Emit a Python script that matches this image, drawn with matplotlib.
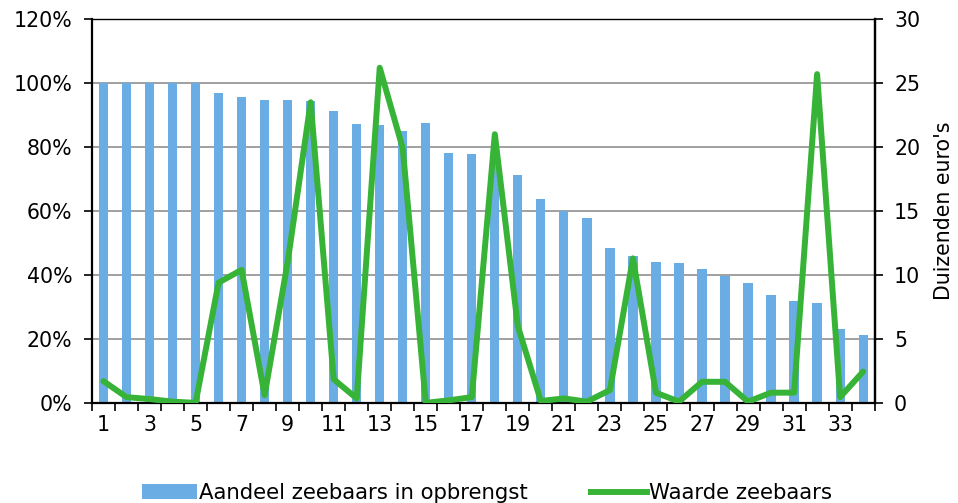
import matplotlib
matplotlib.use("Agg")
import matplotlib.pyplot as plt
from matplotlib.patches import Patch
from matplotlib.lines import Line2D
import numpy as np

plt.rcParams['font.family'] = ['DejaVu Sans']

categories = list(range(1, 35))
aandeel = [100, 100, 100, 100, 100, 96.9, 95.5, 94.8, 94.7, 94.3,
           91.3, 87.1, 86.8, 84.9, 87.4, 78.1, 77.8, 76.0, 71.2, 63.7,
           59.9, 57.8, 48.4, 46.0, 44.0, 43.6, 41.8, 39.8, 37.5, 33.7,
           32.0, 31.2, 23.1, 21.3]
waarde = [1.7, 0.45, 0.3, 0.1, 0.0, 9.4, 10.4, 0.6, 11.0, 23.5,
          1.85, 0.35, 26.2, 19.9, 0.0, 0.2, 0.45, 21.0, 6.0, 0.15,
          0.35, 0.1, 1.0, 11.3, 0.8, 0.1, 1.65, 1.65, 0.1, 0.8,
          0.8, 25.7, 0.45, 2.45]
left_ticks = [0, 20, 40, 60, 80, 100, 120]
right_ticks = [0, 5, 10, 15, 20, 25, 30]
x_labels = [str(c) for c in categories if c % 2 == 1]

bar_color = '#6aade4'
line_color = '#37b337'
fs = 14.8

fig = plt.figure(figsize=(9.58, 5.03), dpi=100)
ax = fig.add_axes([0.096, 0.199, 0.817, 0.763])
ax2 = ax.twinx()

ax.set_axisbelow(True)
ax.bar(categories, aandeel, width=0.4, color=bar_color, zorder=2)
ax.set_ylim(0, 120)
ax.set_xlim(0.5, 34.5)
ax.set_yticks(left_ticks)
ax.set_yticklabels([f"{t}%" for t in left_ticks], fontsize=fs)
ax.yaxis.grid(True, color='#a0a0a0', linewidth=1.4)
ax.tick_params(axis='y', direction='out', length=6, width=1.2, pad=8)

ax.set_xticks([c for c in categories if c % 2 == 1])
ax.set_xticklabels(x_labels, fontsize=fs)
ax.set_xticks(np.arange(0.5, 35.0, 1.0), minor=True)
ax.tick_params(axis='x', which='major', length=0, pad=9)
ax.tick_params(axis='x', which='minor', direction='out', length=6, width=1.2)

for side in ['left', 'bottom', 'right', 'top']:
    ax.spines[side].set_linewidth(1.6 if side in ('left', 'bottom', 'right') else 1.0)
    ax.spines[side].set_color('black')

ax2.plot(categories, waarde, color=line_color, linewidth=4.3,
         solid_joinstyle='round', solid_capstyle='round', zorder=3)
ax2.set_ylim(0, 30)
ax2.set_yticks(right_ticks)
ax2.set_yticklabels([str(t) for t in right_ticks], fontsize=fs)
ax2.tick_params(axis='y', direction='out', length=6, width=1.2, pad=8)
ax2.set_ylabel("Duizenden euro's", fontsize=fs, labelpad=10)
for side in ['left', 'bottom', 'right', 'top']:
    ax2.spines[side].set_visible(side == 'right')
ax2.spines['right'].set_linewidth(1.6)

handles = [Patch(facecolor=bar_color, edgecolor='none'),
           Line2D([0], [0], color=line_color, linewidth=4.3)]
fig.legend(handles, ["Aandeel zeebaars in opbrengst", "Waarde zeebaars"],
           loc='center', bbox_to_anchor=(0.508, 0.02), ncol=2, frameon=False,
           fontsize=15.3, handlelength=2.6, handletextpad=0.1, columnspacing=3.0)

fig.savefig("out.png", dpi=100)
